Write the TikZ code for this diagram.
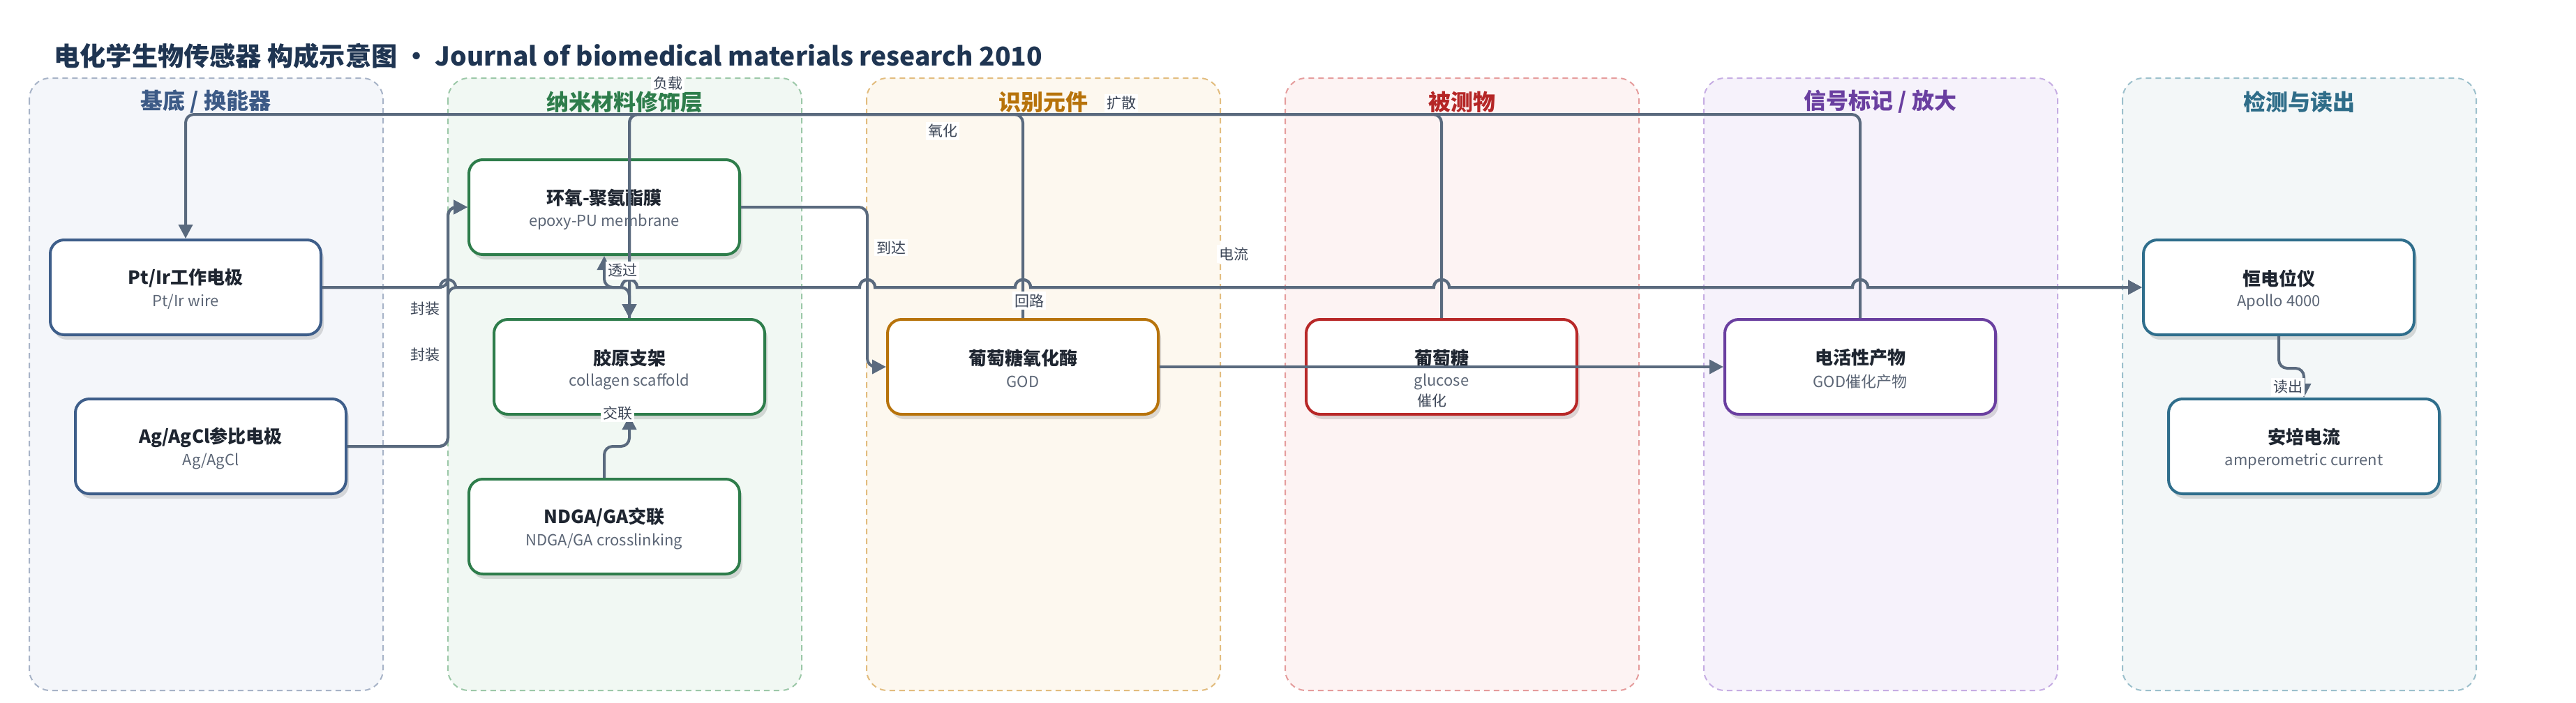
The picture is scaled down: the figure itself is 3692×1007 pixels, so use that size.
\documentclass[tikz,border=0pt]{standalone}
\usepackage{fontspec}
\setmainfont{Noto Sans CJK SC}
\usetikzlibrary{arrows.meta,shadows}
\definecolor{edgecol}{HTML}{5A6A7E}
\definecolor{lblcol}{HTML}{3C4657}
\definecolor{ttlcol}{HTML}{1E2530}
\definecolor{subcol}{HTML}{5C6676}
\definecolor{maincol}{HTML}{1F3552}
\definecolor{fA}{HTML}{F4F6FA}\definecolor{bA}{HTML}{A7B3C7}\definecolor{tA}{HTML}{3C5A86}\definecolor{nA}{HTML}{3E5E8A}
\definecolor{fB}{HTML}{F1F8F3}\definecolor{bB}{HTML}{9CC8A8}\definecolor{tB}{HTML}{2E7D4B}\definecolor{nB}{HTML}{2E7D4B}
\definecolor{fC}{HTML}{FDF8EF}\definecolor{bC}{HTML}{E2BC7E}\definecolor{tC}{HTML}{B7730B}\definecolor{nC}{HTML}{B7730B}
\definecolor{fD}{HTML}{FDF3F3}\definecolor{bD}{HTML}{E59C9C}\definecolor{tD}{HTML}{B52626}\definecolor{nD}{HTML}{B82828}
\definecolor{fE}{HTML}{F6F2FB}\definecolor{bE}{HTML}{C6ADE3}\definecolor{tE}{HTML}{6A3FA0}\definecolor{nE}{HTML}{6A3FA0}
\definecolor{fF}{HTML}{F3F7F8}\definecolor{bF}{HTML}{9CC0CC}\definecolor{tF}{HTML}{2F6D89}\definecolor{nF}{HTML}{2F6E8C}
\tikzset{
  lanebox/.style={rounded corners=15pt, dashed, dash pattern=on 4pt off 3pt, line width=1pt},
  lanettl/.style={font=\bfseries\fontsize{16pt}{18pt}\selectfont, inner sep=0pt},
  box/.style={draw, fill=white, line width=2pt, rounded corners=10pt, minimum width=194pt, minimum height=68pt,
    drop shadow={shadow xshift=2pt, shadow yshift=-3.5pt, opacity=0.13, fill=black}},
  ttl/.style={font=\bfseries\fontsize{13pt}{15pt}\selectfont, text=ttlcol, inner sep=0pt},
  sub/.style={font=\fontsize{11pt}{13pt}\selectfont, text=subcol, inner sep=0pt},
  edge/.style={draw=edgecol, line width=2pt, -{Triangle[length=10pt,width=10pt]}},
  lbl/.style={font=\fontsize{10.5pt}{12pt}\selectfont, text=lblcol, fill=white, inner sep=1.5pt},
}
\newcommand{\mknode}[6]{%
  \node[box, draw=#4] (#1) at (#2,#3) {};
  \node[ttl] (#1T) at ([yshift=6.5pt]#1.center) {#5};
  \node[sub] (#1S) at ([yshift=-10.5pt]#1.center) {#6};
}
\begin{document}
\begin{tikzpicture}[x=0.5pt,y=-0.5pt]
\useasboundingbox[fill=white] (0,0) rectangle (3692,1007);

% title
\node[anchor=west, font=\bfseries\fontsize{18.6pt}{22pt}\selectfont, text=maincol, inner sep=0pt] (title) at (77,80)
  {电化学生物传感器 构成示意图 · Journal of biomedical materials research 2010};

% lanes
\draw[lanebox, fill=fA, draw=bA] (42,112) rectangle (549,990);
\draw[lanebox, fill=fB, draw=bB] (642,112) rectangle (1149,990);
\draw[lanebox, fill=fC, draw=bC] (1242,112) rectangle (1749,990);
\draw[lanebox, fill=fD, draw=bD] (1842,112) rectangle (2349,990);
\draw[lanebox, fill=fE, draw=bE] (2442,112) rectangle (2949,990);
\draw[lanebox, fill=fF, draw=bF] (3042,112) rectangle (3549,990);
\node[lanettl, text=tA] (laneA) at (295,146) {基底 / 换能器};
\node[lanettl, text=tB] (laneB) at (895,146) {纳米材料修饰层};
\node[lanettl, text=tC] (laneC) at (1495,146) {识别元件};
\node[lanettl, text=tD] (laneD) at (2095,146) {被测物};
\node[lanettl, text=tE] (laneE) at (2695,146) {信号标记 / 放大};
\node[lanettl, text=tF] (laneF) at (3295,146) {检测与读出};

% nodes
\mknode{ptir}{266}{412}{nA}{Pt/Ir工作电极}{Pt/Ir wire}
\mknode{ag}{302}{640}{nA}{Ag/AgCl参比电极}{Ag/AgCl}
\mknode{epoxy}{866}{297}{nB}{环氧-聚氨酯膜}{epoxy-PU membrane}
\mknode{coll}{902}{526}{nB}{胶原支架}{collagen scaffold}
\mknode{ndga}{866}{755}{nB}{NDGA/GA交联}{NDGA/GA crosslinking}
\mknode{god}{1466}{526}{nC}{葡萄糖氧化酶}{GOD}
\mknode{glu}{2066}{526}{nD}{葡萄糖}{glucose}
\mknode{prod}{2666}{526}{nE}{电活性产物}{GOD催化产物}
\mknode{pot}{3266}{412}{nF}{恒电位仪}{Apollo 4000}
\mknode{amp}{3302}{640}{nF}{安培电流}{amperometric current}

% edges
\draw[edge, rounded corners=6pt] (prod.north) -- (2666,164) -| (ptir.north);
\draw[edge, rounded corners=6pt] (glu.north) -- (2066,164) -| (coll.north);
\draw[edge, rounded corners=6pt] (god.north) -- (1466,164) -| (coll.north);
\draw[edge, rounded corners=6pt] (ptir.east) -- (642,412) |- (epoxy.west);
\draw[edge, rounded corners=6pt] (ag.east) -- (642,640) |- (epoxy.west);
\draw[edge, rounded corners=6pt] (coll.north) -- (902,412) -| (epoxy.south);
\draw[edge, rounded corners=6pt] (ndga.north) -- (866,640) -| (coll.south);
\draw[edge, rounded corners=6pt] (epoxy.east) -- (1243,297) |- (god.west);
\draw[edge] (god.east) -- (prod.west);
\draw[edge, rounded corners=6pt] (pot.south) -- (3266,528) -| (amp.north);
\draw[edge] (ptir.east) -- (631,412) .. controls (631,397.3) and (653,397.3) .. (653,412)
  -- (891,412) .. controls (891,397.3) and (913,397.3) .. (913,412)
  -- (1232,412) .. controls (1232,397.3) and (1254,397.3) .. (1254,412)
  -- (1455,412) .. controls (1455,397.3) and (1477,397.3) .. (1477,412)
  -- (2055,412) .. controls (2055,397.3) and (2077,397.3) .. (2077,412)
  -- (2655,412) .. controls (2655,397.3) and (2677,397.3) .. (2677,412)
  -- (pot.west);
\draw[edge] (ag.east) [rounded corners=6pt] -- (642,640) -- (642,412) -- (700,412) [sharp corners]
  -- (891,412) .. controls (891,397.3) and (913,397.3) .. (913,412)
  -- (1232,412) .. controls (1232,397.3) and (1254,397.3) .. (1254,412)
  -- (1455,412) .. controls (1455,397.3) and (1477,397.3) .. (1477,412)
  -- (2055,412) .. controls (2055,397.3) and (2077,397.3) .. (2077,412)
  -- (2655,412) .. controls (2655,397.3) and (2677,397.3) .. (2677,412)
  -- (pot.west);

% edge labels
\node[lbl] (lfz) at (957,120) {负载};
\node[lbl] (lyh) at (1351,188) {氧化};
\node[lbl] (lks) at (1607,148) {扩散};
\node[lbl] (ldd) at (1277,355) {到达};
\node[lbl] (ldl) at (1768,364) {电流};
\node[lbl] (lhl) at (1475,431) {回路};
\node[lbl] (ltg) at (892,388) {透过};
\node[lbl] (lfa) at (609,443) {封装};
\node[lbl] (lfb) at (609,509) {封装};
\node[lbl] (ljl) at (885,592) {交联};
\node[lbl] (lch) at (2052,575) {催化};
\node[lbl] (ldc) at (3279,555) {读出};
\end{tikzpicture}
\end{document}
